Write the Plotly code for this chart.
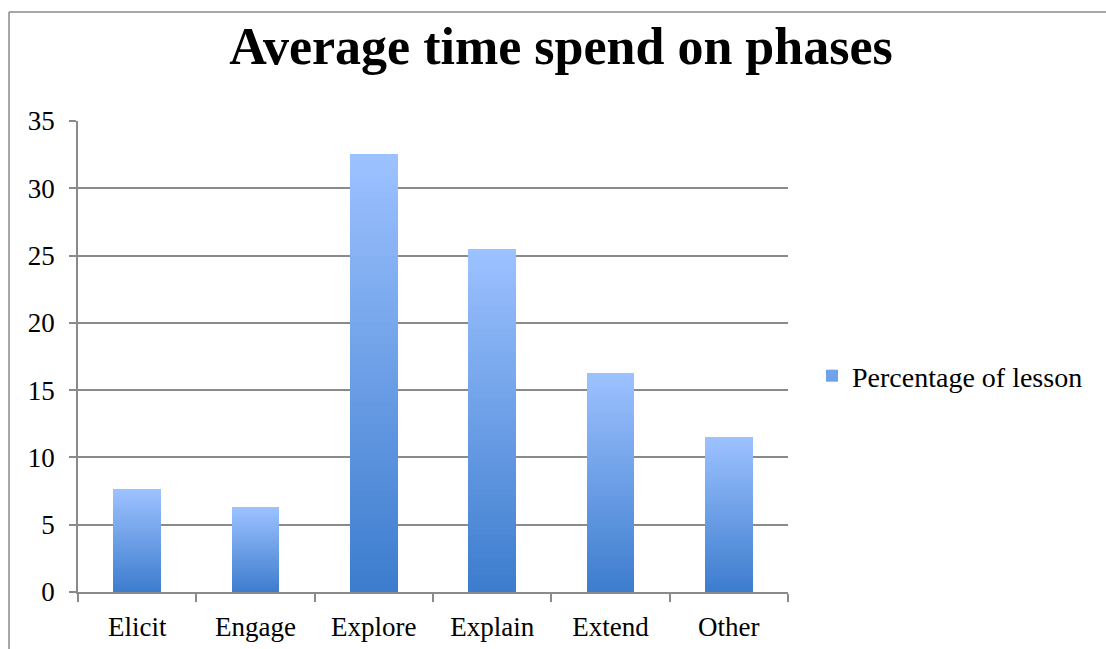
import plotly.graph_objects as go

# ---- data ----
categories = ["Elicit", "Engage", "Explore", "Explain", "Extend", "Other"]
values = [7.65, 6.32, 32.55, 25.47, 16.26, 11.5]
series_name = "Percentage of lesson"
y_ticks = [0, 5, 10, 15, 20, 25, 30, 35]
title_text = "Average time spend on phases"

# ---- style ----
W, H = 1106, 649
L, R, T, B = 78, 788, 121, 592
top_rgb = (156, 193, 255)
bot_rgb = (61, 125, 206)
N = 60  # gradient slices per bar
FONT = "Liberation Serif"

def mix(t):
    c = [round(b + (a - b) * t) for a, b in zip(top_rgb, bot_rgb)]
    return f"rgb({c[0]},{c[1]},{c[2]})"

fig = go.Figure()
for i in range(N):
    t = i / (N - 1)  # 0 bottom -> 1 top
    fig.add_trace(go.Bar(
        x=categories,
        y=[v / N for v in values],
        marker=dict(color=mix(t), line=dict(width=0)),
        showlegend=False,
        hoverinfo="skip",
    ))
# legend entry
fig.add_trace(go.Bar(
    x=categories, y=[0] * len(categories), name=series_name,
    marker=dict(color=mix(0.55), line=dict(width=0)), showlegend=True,
    hoverinfo="skip",
))

def px_x(x):
    return (x - L) / (R - L)

def px_y(y):
    return (B - y) / (B - T)

fig.update_layout(
    width=W, height=H,
    margin=dict(l=L, r=W - R, t=T, b=H - B, pad=0, autoexpand=False),
    barmode="stack",
    bargap=0.595,
    plot_bgcolor="white",
    paper_bgcolor="white",
    font=dict(family=FONT, size=27, color="black"),
    title=dict(text=f"<b>{title_text}</b>", x=561 / W, xanchor="center",
               y=1 - 46 / H, yanchor="middle", yref="container", xref="container",
               font=dict(family=FONT, size=52, color="black")),
    legend=dict(x=px_x(812), xanchor="left", y=px_y(376), yanchor="middle",
                font=dict(family=FONT, size=28, color="black"),
                itemwidth=30, bgcolor="rgba(0,0,0,0)", traceorder="normal"),
    xaxis=dict(
        showgrid=False, showline=True, linecolor="#8a8a8a", linewidth=1.5,
        ticks="outside", tickson="boundaries", ticklen=8, tickcolor="#8a8a8a",
        tickwidth=1.5, tickfont=dict(family=FONT, size=27, color="black"),
        ticklabelstandoff=10, fixedrange=True, automargin=False,
    ),
    yaxis=dict(
        range=[0, 35], tickvals=y_ticks, showgrid=True, gridcolor="#8a8a8a",
        gridwidth=1.5, showline=True, linecolor="#8a8a8a", linewidth=1.5,
        ticks="outside", ticklen=7, tickcolor="#8a8a8a", tickwidth=1.5,
        tickfont=dict(family=FONT, size=27, color="black"), zeroline=False,
        ticklabelstandoff=9, fixedrange=True, automargin=False,
    ),
    shapes=[
        dict(type="line", xref="paper", yref="paper", x0=px_x(9), x1=px_x(W + 5),
             y0=px_y(12), y1=px_y(12), line=dict(color="#8a8a8a", width=1.5)),
        dict(type="line", xref="paper", yref="paper", x0=px_x(9), x1=px_x(9),
             y0=px_y(12), y1=px_y(H + 5), line=dict(color="#8a8a8a", width=1.5)),
    ],
)

fig.write_html("out.html")
